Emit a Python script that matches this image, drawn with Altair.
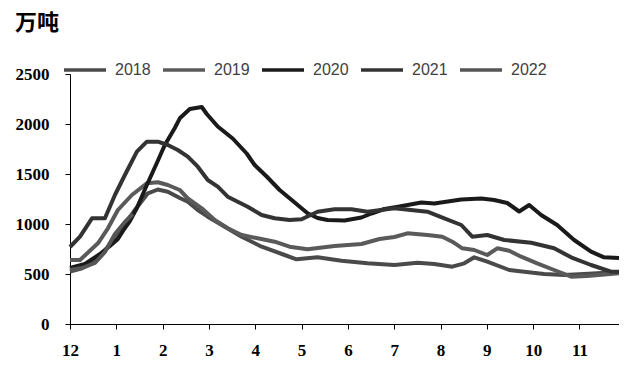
import altair as alt
import pandas as pd

# month position (0 = start of December, 1 = January, ...) and value (万吨)
x_2018 = [0, 0.259, 0.539, 0.819, 1.121, 1.401, 1.681, 1.897, 2.112, 2.371, 2.543, 2.759, 2.974, 3.341, 3.707, 4.138, 4.634, 4.892, 5.345, 5.862, 6.422, 7.004, 7.5, 7.866, 8.254, 8.513, 8.728, 9.009, 9.483, 9.806, 10.237, 10.668, 11.099, 11.853]
y_2018 = [523, 557, 623, 773, 957, 1140, 1307, 1345, 1323, 1260, 1223, 1140, 1073, 973, 873, 773, 690, 647, 667, 633, 607, 590, 613, 600, 573, 607, 667, 623, 540, 523, 500, 490, 500, 520]

x_2019 = [0, 0.216, 0.603, 0.819, 1.034, 1.336, 1.659, 1.897, 2.112, 2.371, 2.543, 2.845, 3.125, 3.405, 3.707, 4.052, 4.418, 4.741, 5.129, 5.711, 6.293, 6.681, 7.004, 7.284, 7.716, 8.039, 8.254, 8.470, 8.728, 9.009, 9.224, 9.483, 9.741, 10.086, 10.453, 10.819, 11.164, 11.853]
y_2019 = [640, 640, 807, 957, 1140, 1290, 1407, 1417, 1390, 1340, 1257, 1157, 1040, 957, 890, 857, 823, 773, 747, 780, 800, 850, 870, 907, 890, 873, 823, 757, 740, 690, 757, 733, 673, 607, 540, 473, 480, 507]

x_2020 = [0, 0.323, 0.647, 0.862, 1.034, 1.185, 1.293, 1.444, 1.659, 1.875, 2.047, 2.263, 2.371, 2.586, 2.845, 2.953, 3.190, 3.513, 3.815, 3.987, 4.246, 4.526, 4.741, 5.129, 5.345, 5.560, 5.927, 6.293, 6.509, 6.789, 7.112, 7.586, 7.866, 8.448, 8.879, 9.159, 9.440, 9.698, 9.914, 10.172, 10.517, 10.884, 11.250, 11.530, 11.853]
y_2020 = [560, 600, 700, 780, 850, 960, 1030, 1160, 1390, 1610, 1790, 1960, 2057, 2150, 2170, 2100, 1975, 1855, 1705, 1590, 1475, 1340, 1257, 1107, 1060, 1040, 1035, 1065, 1105, 1150, 1175, 1215, 1205, 1245, 1255, 1240, 1210, 1125, 1190, 1090, 990, 840, 723, 667, 660]

x_2021 = [0, 0.216, 0.474, 0.754, 0.970, 1.185, 1.444, 1.659, 1.897, 2.112, 2.328, 2.543, 2.759, 2.974, 3.190, 3.405, 3.621, 3.836, 4.138, 4.418, 4.741, 5.0, 5.345, 5.711, 6.078, 6.422, 7.004, 7.716, 8.082, 8.448, 8.685, 9.009, 9.375, 9.957, 10.453, 10.819, 11.250, 11.681, 11.853]
y_2021 = [770, 873, 1057, 1057, 1290, 1490, 1723, 1823, 1823, 1790, 1740, 1673, 1573, 1440, 1373, 1273, 1223, 1173, 1090, 1057, 1040, 1047, 1123, 1147, 1147, 1123, 1157, 1123, 1057, 990, 873, 890, 840, 813, 757, 667, 590, 523, 523]

x_2022 = [0, 0.259, 0.539, 0.754, 0.970, 1.185, 1.358]
y_2022 = [540, 560, 610, 720, 900, 1020, 1100]

years = ["2018", "2019", "2020", "2021", "2022"]
colors = ["#4a4a4a", "#5a5a5a", "#1a1a1a", "#333333", "#555555"]
month_ticks = list(range(12))
y_ticks = [0, 500, 1000, 1500, 2000, 2500]

rows = []
for yr, xs, ys in zip(years,
                      [x_2018, x_2019, x_2020, x_2021, x_2022],
                      [y_2018, y_2019, y_2020, y_2021, y_2022]):
    for i, (a, b) in enumerate(zip(xs, ys)):
        rows.append({"year": yr, "m": a, "v": b, "i": i})
df = pd.DataFrame(rows)

lines = alt.Chart(df).mark_line(strokeWidth=4, strokeJoin="round").encode(
    x=alt.X("m:Q",
            scale=alt.Scale(domain=[0, 11.853], nice=False, zero=False),
            axis=alt.Axis(values=month_ticks, title=None, grid=False,
                          labelExpr="datum.value == 0 ? '12' : datum.value",
                          labelFont="Liberation Serif", labelFontWeight="bold",
                          labelFontSize=17, labelColor="#000", labelPadding=13,
                          tickSize=5, tickColor="#000", domainColor="#000",
                          labelFlush=False)),
    y=alt.Y("v:Q",
            scale=alt.Scale(domain=[0, 2500], nice=False),
            axis=alt.Axis(values=y_ticks, title=None, grid=False, format="d",
                          labelFont="Liberation Serif", labelFontWeight="bold",
                          labelFontSize=17, labelColor="#000", labelPadding=16,
                          tickSize=5, tickColor="#000", domainColor="#000")),
    color=alt.Color("year:N",
                    scale=alt.Scale(domain=years, range=colors),
                    legend=alt.Legend(title=None, orient="none", legendX=-8, legendY=-27,
                                      direction="horizontal", columns=5,
                                      symbolType="stroke", symbolSize=1764,
                                      symbolStrokeWidth=3.5, labelFontSize=16,
                                      labelFont="Liberation Sans", labelColor="#404040",
                                      labelOffset=7, columnPadding=5, padding=0)),
    order="i:Q",
)

title = alt.Chart(pd.DataFrame({"t": ["万吨"]})).mark_text(
    align="left", baseline="middle", font="Noto Sans CJK SC",
    fontWeight="bold", fontSize=22, color="#000"
).encode(text="t:N", x=alt.value(-55), y=alt.value(-51))

chart = alt.layer(lines, title).properties(
    width=549, height=250,
    autosize=alt.AutoSizeParams(type="none"),
    padding={"left": 62, "top": 66, "right": 0, "bottom": 38},
).configure_view(stroke=None)

chart.save("out.html", embed_options={"renderer": "svg", "actions": False})
